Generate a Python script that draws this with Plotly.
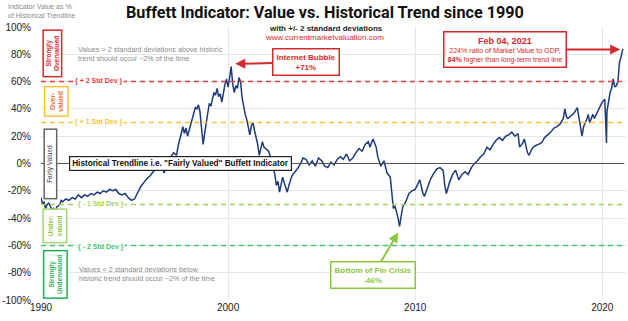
import plotly.graph_objects as go

# Market value / GDP relative to its long-run trendline, in percent
dates = [
    "1990-01", "1990-02", "1990-03", "1990-04", "1990-05", "1990-06", "1990-07", "1990-08", "1990-09", "1990-10", "1990-11", "1990-12",
    "1991-01", "1991-02", "1991-03", "1991-05", "1991-07", "1991-09", "1991-11",
    "1992-01", "1992-03", "1992-05", "1992-07", "1992-09", "1992-11",
    "1993-01", "1993-03", "1993-05", "1993-07", "1993-09", "1993-11",
    "1994-01", "1994-03", "1994-05", "1994-07", "1994-09", "1994-11",
    "1995-01", "1995-03", "1995-05", "1995-07", "1995-09", "1995-11",
    "1996-01", "1996-03", "1996-05", "1996-07", "1996-08", "1996-10", "1996-12",
    "1997-02", "1997-04", "1997-05", "1997-07", "1997-08", "1997-09", "1997-10", "1997-11", "1997-12",
    "1998-01", "1998-03", "1998-04", "1998-05", "1998-06", "1998-07", "1998-08", "1998-09", "1998-10", "1998-11", "1998-12",
    "1999-01", "1999-02", "1999-03", "1999-04", "1999-05", "1999-06", "1999-07", "1999-08", "1999-09", "1999-10", "1999-11", "1999-12",
    "2000-01", "2000-02", "2000-03", "2000-04", "2000-05", "2000-06", "2000-07", "2000-08", "2000-09", "2000-10", "2000-11", "2000-12",
    "2001-01", "2001-02", "2001-03", "2001-04", "2001-05", "2001-06", "2001-07", "2001-08", "2001-09", "2001-10", "2001-11", "2001-12",
    "2002-01", "2002-03", "2002-05", "2002-07", "2002-08", "2002-09", "2002-10", "2002-11", "2002-12",
    "2003-01", "2003-03", "2003-04", "2003-06", "2003-08", "2003-10", "2003-12",
    "2004-01", "2004-03", "2004-05", "2004-07", "2004-09", "2004-11",
    "2005-01", "2005-03", "2005-05", "2005-07", "2005-09", "2005-11",
    "2006-01", "2006-03", "2006-05", "2006-07", "2006-09", "2006-11",
    "2007-01", "2007-03", "2007-05", "2007-07", "2007-08", "2007-10", "2007-11", "2007-12",
    "2008-01", "2008-03", "2008-05", "2008-06", "2008-07", "2008-09", "2008-10", "2008-11", "2008-12",
    "2009-01", "2009-02", "2009-03", "2009-04", "2009-05", "2009-07", "2009-09", "2009-11",
    "2010-01", "2010-04", "2010-06", "2010-07", "2010-09", "2010-11",
    "2011-01", "2011-03", "2011-05", "2011-07", "2011-08", "2011-09", "2011-11",
    "2012-01", "2012-03", "2012-05", "2012-07", "2012-09", "2012-11",
    "2013-01", "2013-03", "2013-05", "2013-07", "2013-09", "2013-11",
    "2014-01", "2014-03", "2014-05", "2014-07", "2014-09", "2014-11",
    "2015-01", "2015-03", "2015-05", "2015-07", "2015-08", "2015-10", "2015-11",
    "2016-01", "2016-02", "2016-04", "2016-06", "2016-08", "2016-10", "2016-12",
    "2017-02", "2017-04", "2017-06", "2017-08", "2017-10", "2017-12",
    "2018-01", "2018-02", "2018-03", "2018-05", "2018-07", "2018-09", "2018-10", "2018-12",
    "2019-01", "2019-03", "2019-04", "2019-05", "2019-07", "2019-08", "2019-10", "2019-12",
    "2020-01", "2020-02-19", "2020-03-23", "2020-04", "2020-05", "2020-06", "2020-07", "2020-08", "2020-09", "2020-10",
    "2020-11", "2020-12", "2021-01", "2021-02-04",
]
values = [
    -25, -30, -28, -33, -30, -29, -31, -34, -33, -36, -32, -31,
    -30, -27, -28, -26, -27, -25, -26,
    -23, -25, -23, -24, -22, -23,
    -21, -22, -20, -21, -19, -20,
    -19, -22, -23, -22, -25, -27,
    -26, -22, -17, -14, -11, -9,
    -6, -4, -1, -3, -7, 1, 5,
    8, 6, 13, 22, 27, 22, 26, 20, 24,
    28, 36, 41, 40, 43, 38, 28, 14, 22, 32, 37,
    44, 42, 47, 52, 50, 55, 49, 51, 45, 53, 58, 62,
    56, 63, 71, 58, 52, 57, 55, 63, 60, 48, 40, 36,
    32, 26, 21, 28, 30, 24, 20, 14, 6, 10, 16, 12,
    11, 9, 2, -8, -16, -13, -21, -14, -10,
    -14, -21, -16, -9, -6, -3, 1,
    4, 3, -1, 2, -2, 4,
    2, -2, -3, 1, -1, 3,
    5, 3, 7, 2, 4, 8,
    11, 9, 14, 16, 12, 18, 14, 12,
    5, -2, 2, -4, -7, -10, -24, -33, -31,
    -35, -40, -46, -38, -32, -28, -22, -20,
    -19, -12, -22, -24, -17, -11,
    -7, -4, -3, -5, -16, -22, -14,
    -8, -5, -12, -8, -6, -8,
    -3, 0, 2, 5, 7, 12,
    10, 14, 17, 19, 17, 20,
    21, 23, 20, 22, 12, 15, 18,
    8, 6, 11, 13, 14, 15, 19,
    21, 23, 26, 27, 29, 33,
    40, 34, 33, 35, 37, 41, 33, 20,
    27, 32, 36, 30, 36, 33, 38, 43,
    45, 47, 15, 38, 45, 52, 55, 62, 56, 57,
    60, 74, 78, 84,
]
assert len(dates) == len(values)

x_tick_vals = ["1990-01-01", "2000-01-01", "2010-01-01", "2020-01-01"]
x_tick_text = ["1990", "2000", "2010", "2020"]
y_tick_vals = [-100, -80, -60, -40, -20, 0, 20, 40, 60, 80, 100]
y_tick_text = [f"{v}%" for v in y_tick_vals]

# Standard-deviation bands around the trendline
band_levels = [60, 30, -30, -60]
band_labels = ["{ + 2 Std Dev }", "{ + 1 Std Dev }", "{ - 1 Std Dev }", "{ - 2 Std Dev }"]
band_colors = ["#e3403f", "#f8c231", "#9fd35b", "#3ec46b"]

NAVY = "#1e3a7b"
RED = "#d22b2b"
LGREEN = "#8cc63f"

# plot area in pixels: x 36..626, y 27..300
L, R, T, B = 36, 626, 27, 300


def fx(p):
    return (p - L) / (R - L)


def fy(p):
    return (B - p) / (B - T)


def note(text, cx, cy, **kw):
    """Paper-anchored text centred on a pixel position."""
    d = dict(text=text, xref="paper", yref="paper", x=fx(cx), y=fy(cy),
             xanchor="center", yanchor="middle", showarrow=False)
    d.update(kw)
    return d


fig = go.Figure()
fig.add_trace(go.Scatter(
    x=dates, y=values, mode="lines",
    line=dict(color=NAVY, width=1.5),
    hoverinfo="x+y",
))

shapes = [
    dict(type="line", xref="paper", yref="y", x0=0, x1=fx(624), y0=0, y1=0,
         line=dict(color="#555555", width=1.2)),
]
for lvl, col in zip(band_levels, band_colors):
    shapes.append(dict(type="line", xref="paper", yref="y", x0=0, x1=fx(625), y0=lvl, y1=lvl,
                       line=dict(color=col, width=1.5, dash="5px,4px")))

annotations = []

# band labels
label_centres = [(94, 81), (94, 122), (97, 204), (97, 246.5)]
for (cx, cy), txt, col in zip(label_centres, band_labels, band_colors):
    annotations.append(note(f"<b>{txt}</b>", cx, cy, font=dict(size=7, color=col),
                            bgcolor="white", borderpad=0))

# valuation zone boxes on the left (rotated)
zones = [
    ("<b>Strongly<br>Overvalued</b>", 47.5, 53, RED, RED, 43, 15),
    ("<b>Over-<br>valued</b>", 51.5, 101.5, "#ec6a2b", "#f8c231", 26, 20),
    ("Fairly Valued", 45, 163.5, "#444444", "#666666", 66, 9),
    ("<b>Under-<br>valued</b>", 50, 225.5, LGREEN, "#a6d66c", 30, 20),
    ("<b>Strongly<br>Undervalued</b>", 50.5, 274.5, "#1fae55", "#1fae55", 44, 20),
]
for txt, cx, cy, tcol, bcol, w, h in zones:
    annotations.append(note(txt, cx, cy, textangle=-90, font=dict(size=6.5, color=tcol),
                            bordercolor=bcol, borderwidth=1.5, borderpad=1, bgcolor="white",
                            width=w, height=h))

# trendline caption
annotations.append(note('<b>Historical Trendline i.e. "Fairly Valued" Buffett Indicator</b>', 177, 163,
                        font=dict(size=8.2, color="#111111"), bgcolor="white",
                        bordercolor="#222222", borderwidth=1.2, borderpad=2))

# notes about tails
annotations.append(note("Values > 2 standard deviations above historic<br>trend should occur ~2% of the time",
                        72, 54.5, xanchor="left", align="left", borderpad=0,
                        font=dict(size=7.2, color="#8a8a8a")))
annotations.append(note("Values < 2 standard deviations below<br>historic trend should occur ~2% of the time",
                        73, 274, xanchor="left", align="left", borderpad=0,
                        font=dict(size=7.2, color="#8a8a8a")))

# call-outs with arrows
annotations.append(dict(text="<b>Internet Bubble<br>+71%</b>", x="2000-05-20", y=73, xref="x", yref="y",
                        ax=71, ay=-1.5, showarrow=True, arrowhead=2, arrowsize=1, arrowwidth=2,
                        arrowcolor=RED, font=dict(size=8, color=RED), bgcolor="white",
                        bordercolor=RED, borderwidth=1.5, borderpad=3))
annotations.append(dict(text="<b><span style='font-size:9px'>Feb 04, 2021</span></b><br>"
                             "224% ratio of Market Value to GDP,<br>"
                             "<b>84%</b> higher than long-term trend line",
                        x="2020-12-15", y=83.5, xref="x", yref="y",
                        ax=-115.5, ay=0, showarrow=True, arrowhead=2, arrowsize=1, arrowwidth=2,
                        arrowcolor=RED, font=dict(size=7.1, color=RED), bgcolor="white",
                        bordercolor=RED, borderwidth=1.5, borderpad=3))
annotations.append(dict(text="<b>Bottom of Fin Crisis<br>-46%</b>", x="2009-02-01", y=-50.5, xref="x", yref="y",
                        ax=-25, ay=42.5, showarrow=True, arrowhead=2, arrowsize=1, arrowwidth=2,
                        arrowcolor=LGREEN, font=dict(size=8, color=LGREEN), bgcolor="white",
                        bordercolor=LGREEN, borderwidth=1.5, borderpad=3))

# headings
annotations.append(note("<b>Buffett Indicator: Value vs. Historical Trend since 1990</b>", 322, 12.5,
                        font=dict(size=16.2, color="#111111", family="Roboto, Liberation Sans, sans-serif"),
                        borderpad=0))
annotations.append(note("<b>with +/- 2 standard deviations</b>", 323, 28.5,
                        font=dict(size=8, color="#222222"), borderpad=0))
annotations.append(note("www.currentmarketvaluation.com", 322, 37.5,
                        font=dict(size=8, color=RED), borderpad=0))
annotations.append(note("Indicator Value as %<br>of Historical Trendline", 2, 11,
                        xanchor="left", align="left", font=dict(size=7, color="#8a8a8a"), borderpad=0))

fig.update_layout(
    width=628, height=321,
    margin=dict(l=L, r=628 - R, t=T, b=321 - B),
    plot_bgcolor="white", paper_bgcolor="white",
    showlegend=False,
    font=dict(family="Liberation Sans, Arial, sans-serif", color="#222222"),
    shapes=shapes,
    annotations=annotations,
    xaxis=dict(range=["1990-01-01", "2021-04-08"], tickvals=x_tick_vals, ticktext=x_tick_text,
               showgrid=True, gridcolor="#e6e6e6", gridwidth=1, zeroline=False, showline=False,
               tickfont=dict(size=10, color="#222222"), ticks=""),
    yaxis=dict(range=[-100, 100], tickvals=y_tick_vals, ticktext=y_tick_text,
               showgrid=True, gridcolor="#e6e6e6", gridwidth=1, zeroline=False, showline=False,
               tickfont=dict(size=10, color="#222222"), ticks="", ticklabelstandoff=9),
)

fig.write_html("out.html")
